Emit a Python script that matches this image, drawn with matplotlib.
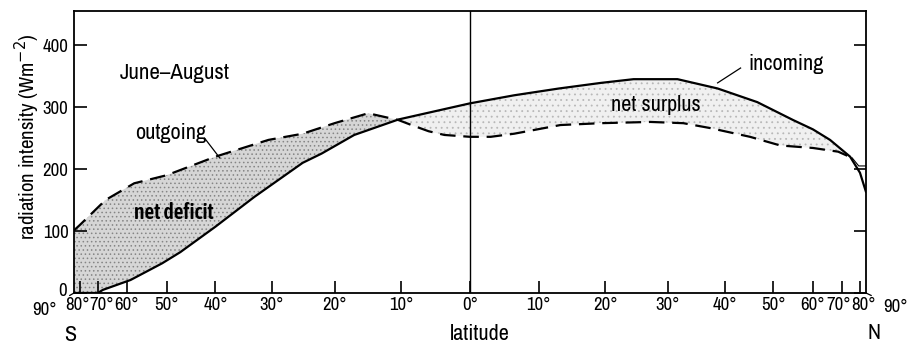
import numpy as np
import matplotlib
matplotlib.use("Agg")
import matplotlib.pyplot as plt
from matplotlib import font_manager
from matplotlib.transforms import ScaledTranslation

# narrow sans like the original print; take the first one installed
names = {f.name for f in font_manager.fontManager.ttflist}
narrow = [n for n in ['Liberation Sans Narrow', 'Arial Narrow', 'Archivo Narrow',
                      'Roboto Condensed', 'Barlow Semi Condensed'] if n in names]
bold_narrow = [n for n in ['Asap Condensed', 'Barlow Semi Condensed', 'Roboto Condensed'] if n in names]
plt.rcParams['font.family'] = narrow[:1] + ['Liberation Sans', 'DejaVu Sans']
plt.rcParams['hatch.linewidth'] = 0.6

# readings (latitude in degrees, S negative)
incoming_lat = [-90, -70, -68, -59, -51, -47, -40, -33, -25, -22, -17, -10.4, 0, 6.4, 13, 19.3,
                24.4, 31.6, 38.7, 46.5, 54.7, 60, 65.4, 73.7, 80, 90]
incoming_val = [0, 0, 5, 21, 48, 66, 107, 155, 210, 225, 255, 280, 306, 319, 330, 339,
                345, 345, 330, 308, 279, 264, 247, 220, 194, 163]

outgoing_lat = [-90, -80, -67, -58, -50, -40, -30.6, -25, -20, -14.9, -10.4, -8.5, -6, -3.7, 0,
                3, 6.4, 13.2, 19.3, 27.1, 32.6, 37.4, 45, 51.6, 60, 68.4, 74.8]
outgoing_val = [101, 110, 150, 177, 190, 220, 247, 257, 274, 290, 279, 271, 261, 255, 252,
                252, 257, 271, 274, 276, 274, 266, 252, 238, 234, 228, 218]

# thin closing lines of the little polar triangle
polar_lat = [74.8, 79, 90]
polar_val = [218, 205, 205]

tick_lats = [-80, -70, -60, -50, -40, -30, -20, -10, 0, 10, 20, 30, 40, 50, 60, 70, 80]
tick_labels = [f"{abs(t)}°" for t in tick_lats]
y_ticks = [0, 100, 200, 300, 400]


def sx(lat):
    # area-weighted latitude axis
    return np.sin(np.radians(np.asarray(lat, dtype=float)))


fig = plt.figure(figsize=(9.15, 3.49), dpi=100)
ax = fig.add_axes([74 / 915, 1 - 293 / 349, (866 - 74) / 915, (293 - 11) / 349])

xs = np.linspace(-1, sx(74.8), 2001)
inc = np.interp(xs, sx(incoming_lat), incoming_val)
out = np.interp(xs, sx(outgoing_lat), outgoing_val)

ax.fill_between(xs, inc, out, where=out >= inc, interpolate=True,
                facecolor='#d6d6d6', edgecolor='#858585', hatch='....', linewidth=0)
ax.fill_between(xs, inc, out, where=inc >= out, interpolate=True,
                facecolor='#f0f0f0', edgecolor='#b8b8b8', hatch='...', linewidth=0)

ax.plot(sx(incoming_lat), incoming_val, color='black', lw=1.6, solid_capstyle='round')
ax.plot(sx(outgoing_lat), outgoing_val, color='black', lw=1.6, dashes=(7, 3.5))
ax.plot(sx(polar_lat), polar_val, color='black', lw=0.8)
ax.axvline(0, color='black', lw=1.0)

ax.set_xlim(-1, 1)
ax.set_ylim(0, 455)
ax.set_xticks(sx(tick_lats))
ax.set_xticklabels(tick_labels)
ax.set_yticks(y_ticks)
ax.tick_params(axis='both', direction='in', length=9, width=1.2, labelsize=13.5, pad=3)
ax.tick_params(axis='y', right=True, pad=4)
for s in ax.spines.values():
    s.set_linewidth(1.3)

# the crowded polar labels are nudged apart a little, as in the print
nudge = {0: -2.5, 1: 3.5, 15: -3.5, 16: 3.5}
for i, lab in enumerate(ax.get_xticklabels()):
    if i in nudge:
        lab.set_transform(lab.get_transform() + ScaledTranslation(nudge[i] / 100, 0, fig.dpi_scale_trans))
zero_lab = ax.get_yticklabels()[0]
zero_lab.set_transform(zero_lab.get_transform() + ScaledTranslation(-0.02, 0.03, fig.dpi_scale_trans))

ax.set_ylabel('radiation intensity (Wm$^{-2}$)', fontsize=15)
ax.yaxis.set_label_coords(-0.04, 0.553)

# the two 90° labels sit outside the corners with a short leader
ax.annotate('90°', xy=(-1, 0), xytext=(-21, -12), textcoords='offset points',
            ha='center', va='center', fontsize=13.5, annotation_clip=False,
            arrowprops=dict(arrowstyle='-', lw=0.9, color='black', shrinkA=8, shrinkB=0))
ax.annotate('90°', xy=(1, 0), xytext=(21, -10), textcoords='offset points',
            ha='center', va='center', fontsize=13.5, annotation_clip=False,
            arrowprops=dict(arrowstyle='-', lw=0.9, color='black', shrinkA=7, shrinkB=0))

fig.text(70 / 915, 1 - 335 / 349, 'S', ha='center', va='center', fontsize=16)
fig.text(874 / 915, 1 - 333 / 349, 'N', ha='center', va='center', fontsize=16)
fig.text(480 / 915, 1 - 334 / 349, 'latitude', ha='center', va='center', fontsize=16)

ax.text(sx(-48.3), 355, 'June–August', ha='center', va='center', fontsize=16.5)
ax.text(sx(-49.2), 258, 'outgoing', ha='center', va='center', fontsize=16)
ax.plot([sx(-42.1), sx(-39.2)], [250, 218], color='black', lw=0.9)
ax.text(sx(-48.3), 129, 'net deficit', ha='center', va='center', fontsize=15.5, fontweight='semibold',
        family=bold_narrow[:1] + ['DejaVu Sans'])
ax.text(sx(28), 303, 'net surplus', ha='center', va='center', fontsize=16)
ax.text(sx(53), 369, 'incoming', ha='center', va='center', fontsize=16)
ax.plot([sx(38.7), sx(43.1)], [339, 363], color='black', lw=0.9)

fig.savefig('out.png', dpi=100)
